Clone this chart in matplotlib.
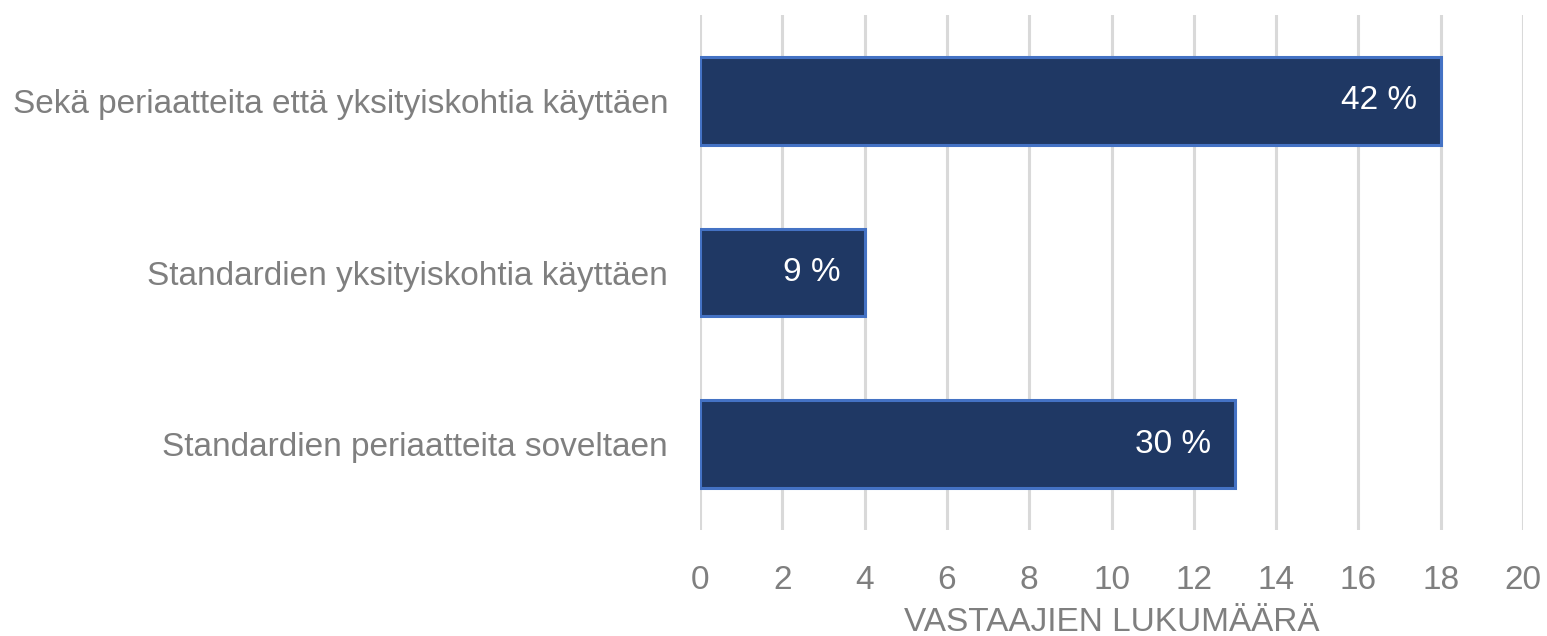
import matplotlib
matplotlib.use("Agg")
import matplotlib.pyplot as plt

categories = ["Sekä periaatteita että yksityiskohtia käyttäen",
              "Standardien yksityiskohtia käyttäen",
              "Standardien periaatteita soveltaen"]
counts = [18, 4, 13]
percent_labels = ["42 %", "9 %", "30 %"]
xticks = [0, 2, 4, 6, 8, 10, 12, 14, 16, 18, 20]
xlabel = "VASTAAJIEN LUKUMÄÄRÄ"

plt.rcParams['font.family'] = ['Liberation Sans', 'DejaVu Sans']
gray = "#7f7f7f"

fig = plt.figure(figsize=(15.47, 6.36), dpi=100)
ax = fig.add_axes([700/1547, 1-530/636, 823/1547, 515/636])

y = list(range(len(categories)))
bars = ax.barh(y, counts, height=0.51, color="#1f3864", edgecolor="#4472c4",
               linewidth=2.2, zorder=3)
ax.set_ylim(2.5, -0.5)
ax.set_xlim(0, 20)
ax.set_xticks(xticks)
ax.set_yticks(y)
ax.set_yticklabels(categories)
ax.tick_params(axis='y', length=0, pad=23, labelsize=24, labelcolor=gray)
ax.tick_params(axis='x', length=0, pad=25, labelsize=24, labelcolor=gray)
ax.grid(axis='x', color="#d9d9d9", linewidth=2.2, zorder=0)
for s in ax.spines.values():
    s.set_visible(False)
ax.set_xlabel(xlabel, fontsize=24, color=gray, labelpad=8)

for yi, c, lab in zip(y, counts, percent_labels):
    ax.annotate(lab, xy=(c, yi), xytext=(-17, 0), textcoords='offset points',
                ha='right', va='center', color='white', fontsize=24, zorder=4)

fig.savefig("out.png", dpi=100)
